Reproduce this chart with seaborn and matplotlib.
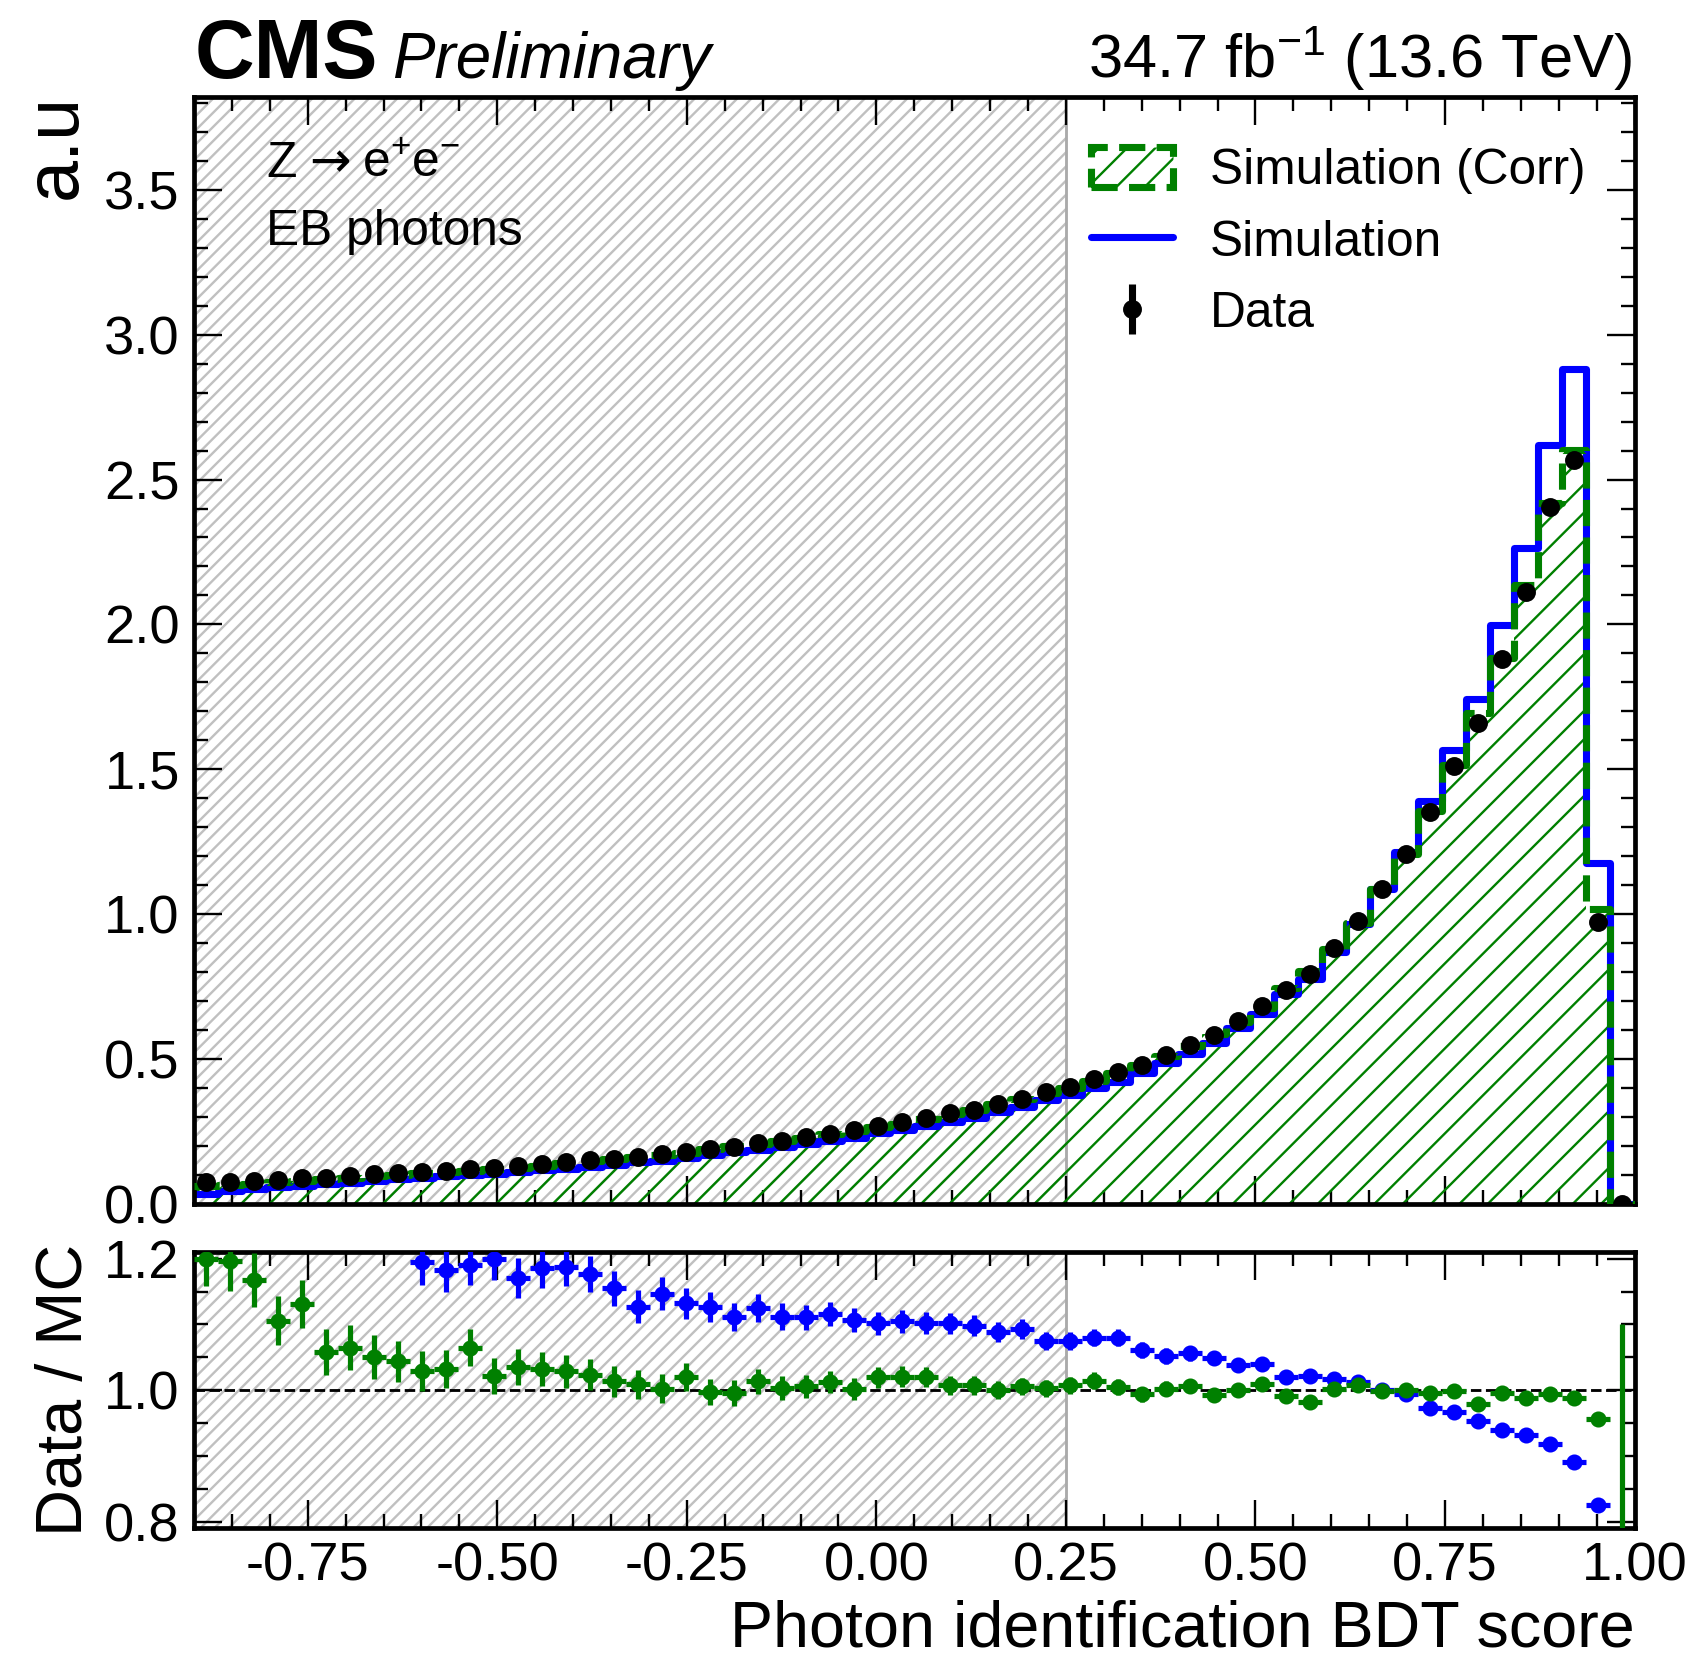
import numpy as np
import matplotlib
matplotlib.use("Agg")
import matplotlib.pyplot as plt
import matplotlib.patches as mpatches
from matplotlib.lines import Line2D
from matplotlib.ticker import MultipleLocator, FormatStrFormatter
import seaborn as sns

# ---------------- data ----------------
bin_lo, bin_hi, n_bins = -0.9, 1.0, 60

data = [0.075, 0.077, 0.080, 0.083, 0.089, 0.091, 0.097, 0.102, 0.106, 0.109,
        0.115, 0.120, 0.123, 0.130, 0.137, 0.144, 0.151, 0.156, 0.163, 0.171,
        0.180, 0.190, 0.198, 0.209, 0.218, 0.230, 0.243, 0.254, 0.270, 0.282,
        0.298, 0.313, 0.326, 0.346, 0.364, 0.385, 0.405, 0.432, 0.455, 0.478,
        0.513, 0.547, 0.582, 0.630, 0.683, 0.737, 0.792, 0.883, 0.977, 1.087,
        1.209, 1.351, 1.513, 1.661, 1.879, 2.112, 2.406, 2.569, 0.973, 0.000]

data_err = [0.0026, 0.0030, 0.0028, 0.0028, 0.0029, 0.0030, 0.0031, 0.0032, 0.0032, 0.0032,
            0.0032, 0.0031, 0.0033, 0.0034, 0.0034, 0.0035, 0.0035, 0.0036, 0.0036, 0.0037,
            0.0037, 0.0038, 0.0038, 0.0039, 0.0040, 0.0040, 0.0041, 0.0042, 0.0043, 0.0044,
            0.0045, 0.0046, 0.0047, 0.0048, 0.0049, 0.0050, 0.0051, 0.0052, 0.0054, 0.0055,
            0.0057, 0.0058, 0.0060, 0.0062, 0.0065, 0.0067, 0.0070, 0.0074, 0.0078, 0.0082,
            0.0087, 0.0092, 0.0097, 0.0102, 0.0108, 0.0115, 0.0123, 0.0127, 0.0078, 0.0011]

sim = [0.034, 0.046, 0.051, 0.057, 0.063, 0.068, 0.074, 0.080, 0.085, 0.091,
       0.097, 0.101, 0.103, 0.111, 0.116, 0.121, 0.128, 0.135, 0.145, 0.149,
       0.159, 0.169, 0.178, 0.186, 0.196, 0.207, 0.218, 0.229, 0.245, 0.255,
       0.270, 0.284, 0.297, 0.318, 0.333, 0.358, 0.377, 0.400, 0.421, 0.451,
       0.488, 0.518, 0.555, 0.607, 0.657, 0.723, 0.775, 0.868, 0.965, 1.087,
       1.216, 1.389, 1.565, 1.741, 1.999, 2.264, 2.618, 2.883, 1.178, 0.000]

sim_corr = [0.0625, 0.0643, 0.0686, 0.0750, 0.0787, 0.0859, 0.0911, 0.0971, 0.1015, 0.1059,
            0.1113, 0.1127, 0.1204, 0.1256, 0.1326, 0.1399, 0.1475, 0.1538, 0.1615, 0.1706,
            0.1765, 0.1905, 0.1988, 0.2061, 0.2171, 0.2286, 0.2399, 0.2534, 0.2647, 0.2762,
            0.2922, 0.3107, 0.3236, 0.3457, 0.3618, 0.3837, 0.4020, 0.4256, 0.4527, 0.4809,
            0.5117, 0.5437, 0.5858, 0.6294, 0.6762, 0.7437, 0.8057, 0.8808, 0.9697, 1.0881,
            1.2078, 1.3557, 1.5145, 1.6949, 1.8856, 2.1377, 2.4181, 2.6002, 1.0178, 0.0010]

ratio_sim = [2.21, 1.67, 1.57, 1.46, 1.41, 1.34, 1.31, 1.275, 1.25, 1.195,
             1.182, 1.191, 1.200, 1.171, 1.185, 1.188, 1.176, 1.155, 1.127, 1.147,
             1.132, 1.127, 1.112, 1.125, 1.112, 1.111, 1.116, 1.107, 1.102, 1.105,
             1.103, 1.102, 1.098, 1.089, 1.093, 1.075, 1.075, 1.080, 1.080, 1.061,
             1.052, 1.056, 1.049, 1.038, 1.040, 1.020, 1.022, 1.017, 1.013, 1.000,
             0.994, 0.973, 0.967, 0.954, 0.940, 0.933, 0.919, 0.891, 0.826, np.nan]

ratio_corr = [1.200, 1.197, 1.167, 1.106, 1.131, 1.059, 1.065, 1.051, 1.044, 1.029,
              1.033, 1.065, 1.022, 1.035, 1.033, 1.029, 1.024, 1.014, 1.009, 1.0025,
              1.020, 0.9975, 0.996, 1.014, 1.004, 1.006, 1.013, 1.0025, 1.020, 1.021,
              1.020, 1.0075, 1.0075, 1.001, 1.006, 1.0035, 1.0075, 1.015, 1.005, 0.994,
              1.0025, 1.006, 0.9935, 1.001, 1.010, 0.991, 0.983, 1.0025, 1.0075, 0.999,
              1.001, 0.9965, 0.999, 0.980, 0.9965, 0.988, 0.995, 0.988, 0.956, 0.000]

labels = ["Simulation (Corr)", "Simulation", "Data"]
blind_lo, blind_hi = -0.9, 0.25

# ---------------- style ----------------
sns.set_theme(style="ticks")
plt.rcParams.update({
    "font.family": ["Liberation Sans", "DejaVu Sans"],
    "mathtext.fontset": "custom",
    "mathtext.rm": "Liberation Sans",
    "mathtext.it": "Liberation Sans:italic",
    "mathtext.bf": "Liberation Sans:bold",
    "axes.unicode_minus": False,
    "axes.linewidth": 2.0,
    "axes.edgecolor": "black",
    "axes.labelcolor": "black",
    "text.color": "black",
    "xtick.color": "black", "ytick.color": "black",
    "xtick.direction": "in", "ytick.direction": "in",
    "xtick.top": True, "ytick.right": True,
    "xtick.major.size": 12, "xtick.minor.size": 6,
    "ytick.major.size": 12, "ytick.minor.size": 6,
    "xtick.major.width": 1.0, "xtick.minor.width": 1.0,
    "ytick.major.width": 1.0, "ytick.minor.width": 1.0,
    "xtick.major.pad": 6, "ytick.major.pad": 6,
    "hatch.linewidth": 1.0,
    "axes.facecolor": "white",
    "figure.facecolor": "white",
})

W, H, DPI = 1696, 1659, 170
fig = plt.figure(figsize=(W / DPI, H / DPI), dpi=DPI)
L = 194 / W
Wd = (1634.5 - 194) / W
ax = fig.add_axes([L, 1 - 1204 / H, Wd, (1204 - 97) / H])
rax = fig.add_axes([L, 1 - 1527.5 / H, Wd, (1527.5 - 1252) / H], sharex=ax)

edges = np.linspace(bin_lo, bin_hi, n_bins + 1)
bins_list = edges.tolist()
centers = 0.5 * (edges[:-1] + edges[1:])
half = 0.5 * np.diff(edges)

data = np.array(data); data_err = np.array(data_err)
sim = np.array(sim); sim_corr = np.array(sim_corr)
ratio_sim = np.array(ratio_sim); ratio_corr = np.array(ratio_corr)
with np.errstate(divide="ignore", invalid="ignore"):
    err_sim = np.where(sim > 0, data_err / sim, np.nan)
    err_corr = np.where(sim_corr > 0, data_err / sim_corr, np.nan)

GREY = "#c0c0c0"
# blinded / hatched region
for a in (ax, rax):
    a.axvspan(blind_lo, blind_hi, facecolor="none", edgecolor=GREY, hatch="////",
              linewidth=0, zorder=0)
    a.axvline(blind_hi, color="#aaaaaa", linewidth=1.2, zorder=0.5)

# ---------------- main panel ----------------
sns.histplot(x=centers, weights=sim_corr, bins=bins_list, element="step", fill=True,
             color="green", facecolor="none", edgecolor="green", hatch="//",
             linewidth=0, alpha=1, ax=ax, zorder=2)
sns.histplot(x=centers, weights=sim_corr, bins=bins_list, element="step", fill=False,
             color="green", linestyle="--", linewidth=3, ax=ax, zorder=3)
sns.histplot(x=centers, weights=sim, bins=bins_list, element="step", fill=False,
             color="blue", linewidth=3, ax=ax, zorder=2.5)
h_data = ax.errorbar(centers, data, yerr=data_err, fmt="o", color="black",
                     ms=7, elinewidth=3, capsize=0, zorder=5)

ax.set_xlim(bin_lo, bin_hi)
ax.set_ylim(0, 3.82)
ax.xaxis.set_major_locator(MultipleLocator(0.25))
ax.xaxis.set_minor_locator(MultipleLocator(0.05))
ax.yaxis.set_major_locator(MultipleLocator(0.5))
ax.yaxis.set_minor_locator(MultipleLocator(0.1))
ax.yaxis.set_major_formatter(FormatStrFormatter("%.1f"))
ax.tick_params(which="both", labelbottom=False)
ax.tick_params(axis="y", labelsize=23)
ax.set_xlabel("")
ax.set_ylabel("a.u", fontsize=32, loc="top")
ax.yaxis.set_label_coords(-0.0712, 1.003)

h_corr = mpatches.Patch(facecolor="none", edgecolor="green", hatch="//",
                        linestyle="--", linewidth=3)
h_sim = Line2D([], [], color="blue", lw=3)
ax.legend([h_corr, h_sim, h_data], labels, loc="upper left",
          bbox_to_anchor=(1091 / W, 1 - 147 / H), bbox_transform=fig.transFigure,
          frameon=False, fontsize=21, handlelength=1.65, handleheight=0.85,
          handletextpad=0.75, labelspacing=0.5, borderpad=0, borderaxespad=0)

# ---------------- ratio panel ----------------
rax.axhline(1.0, color="black", linestyle="--", linewidth=1.2, zorder=1)
rax.errorbar(centers, ratio_sim, yerr=err_sim, xerr=half, fmt="o", color="blue",
             ms=5.8, elinewidth=2.2, capsize=0, zorder=3)
rax.errorbar(centers, ratio_corr, yerr=err_corr, xerr=half, fmt="o", color="green",
             ms=5.8, elinewidth=2.2, capsize=0, zorder=4)
rax.set_ylim(0.792, 1.21)
rax.yaxis.set_major_locator(MultipleLocator(0.2))
rax.yaxis.set_minor_locator(MultipleLocator(0.05))
rax.yaxis.set_major_formatter(FormatStrFormatter("%.1f"))
rax.xaxis.set_major_formatter(FormatStrFormatter("%.2f"))
rax.tick_params(axis="both", labelsize=23)
rax.set_xlim(bin_lo, bin_hi)
rax.set_ylabel("Data / MC", fontsize=27.5, loc="center")
rax.yaxis.set_label_coords(-0.069, 0.5)
rax.set_xlabel("Photon identification BDT score", fontsize=27.4, loc="right")
rax.xaxis.set_label_coords(1.0, -0.26)
rax.xaxis.label.set_va("top")

# ---------------- texts ----------------
def fx(x): return x / W
def fy(y): return 1 - y / H

fig.text(fx(195), fy(78), "CMS", fontsize=35, fontweight="bold", ha="left", va="baseline")
fig.text(fx(392), fy(78), "Preliminary", fontsize=27, style="italic", ha="left", va="baseline")
fig.text(fx(1632), fy(78), r"34.7 fb$^{-1}$ (13.6 TeV)", fontsize=26, ha="right", va="baseline")
fig.text(fx(266), fy(177), "Z", fontsize=21, ha="left", va="baseline")
fig.text(fx(309), fy(177), "\u2192", fontsize=21, family=["DejaVu Sans"], ha="left", va="baseline")
fig.text(fx(362), fy(177), r"e$^{+}$e$^{-}$", fontsize=21, ha="left", va="baseline")
fig.text(fx(266), fy(245), "EB photons", fontsize=21, ha="left", va="baseline")

fig.savefig("out.png", dpi=DPI)
